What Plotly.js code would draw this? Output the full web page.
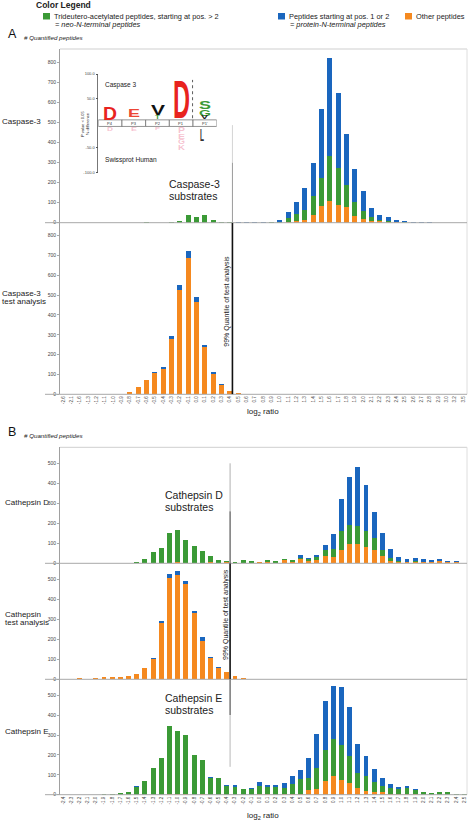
<!DOCTYPE html>
<html><head><meta charset="utf-8">
<script src="https://cdn.plot.ly/plotly-3.0.1.min.js"></script>
<style>html,body{margin:0;padding:0;background:#fff;}#chart{width:469px;height:821px;}</style>
</head><body><div id="chart"></div>
<script>
// ---------------- DATA ----------------
const catsA = ['-2.6','-2.1','-1.6','-1.3','-1.2','-1.1','-1.0','-0.9','-0.8','-0.7','-0.6','-0.5','-0.4','-0.3','-0.2','-0.1','0.0','0.1','0.2','0.3','0.4','0.5','0.6','0.7','0.8','0.9','1.0','1.1','1.2','1.3','1.4','1.5','1.6','1.7','1.8','1.9','2.0','2.1','2.2','2.3','2.4','2.5','2.6','2.7','2.8','2.9','3.0','3.2','3.5'];
// Caspase-3
const casp3Other = [0,0,0,0,0,0,0,0,0,0, 0,0,0,0,0,0,0,0,0,0, 0,0,0,0,0,0,0,5,7,13, 40,84,108,88,76,35,17,10,7,5, 2,1,0,0,0,0,0,0,0];
const casp3Neo   = [0,0,0,0,0,0,0,0,0,0, 2,0,0,3,10,39,27,36,12,5, 4,1,1,1,1,2,5,17,36,50, 94,141,223,184,111,68,43,16,6,5, 3,3,1,1,0,0,0,0,0];
const casp3Prot  = [0,0,0,0,0,0,0,0,0,0, 0,0,0,0,0,0,0,0,0,0, 0,2,2,2,2,3,8,31,58,109, 161,343,490,374,257,165,99,49,23,18, 8,6,2,2,2,0,0,0,0];
// Caspase-3 test analysis
const casp3TestOther = [0,0,2,0,0,0,2,3,13,37, 73,109,128,278,526,686,467,238,104,46, 18,8,4,3,0,0,0,0,0,0, 0,0,0,0,0,0,0,0,0,0, 0,0,0,0,0,0,2,0,0];
const casp3TestNeo   = [0,0,0,0,0,0,0,0,0,0, 0,0,0,0,0,0,0,0,0,0, 0,0,0,0,0,0,0,0,0,0, 0,0,0,0,0,0,0,0,0,0, 0,0,0,0,0,0,0,0,0];
const casp3TestProt  = [0,0,0,0,0,0,0,0,0,1, 0,3,9,15,23,37,23,10,9,4, 0,0,0,0,0,0,0,0,0,0, 0,0,0,0,0,0,0,0,0,0, 0,0,0,0,0,0,0,0,0];

const catsB = ['-2.4','-2.3','-2.2','-2.1','-2.0','-1.9','-1.8','-1.7','-1.6','-1.5','-1.4','-1.3','-1.2','-1.1','-1.0','-0.9','-0.8','-0.7','-0.6','-0.5','-0.4','-0.3','-0.2','-0.1','0.0','0.1','0.2','0.3','0.4','0.5','0.6','0.7','0.8','0.9','1.0','1.1','1.2','1.3','1.4','1.5','1.6','1.7','1.8','1.9','2.0','2.1','2.2','2.3','2.4','2.5'];
// Cathepsin D
const cathDOther = [0,0,0,0,0,0,0,0,0,0, 0,3,0,0,5,0,0,0,5,0, 5,0,0,0,5,8,2,18,5,23, 12,17,37,33,67,95,97,83,67,37, 10,8,8,8,8,7,10,4,6,0];
const cathDNeo   = [0,0,0,0,0,0,0,2,2,7, 22,52,78,150,162,117,87,60,32,18, 5,7,15,10,2,7,10,2,10,4, 10,16,27,38,92,97,87,77,58,27, 17,4,0,4,0,0,0,0,0,0];
const cathDProt  = [0,0,0,0,0,0,0,0,0,0, 0,0,0,0,0,0,0,0,0,0, 0,0,0,0,0,0,0,2,3,13, 6,10,28,76,161,238,299,230,133,88, 45,20,12,16,14,10,10,8,4,2];
// Cathepsin test analysis
const cathTestOther = [0,0,7,3,5,11,10,10,15,27, 55,102,283,506,520,475,333,192,107,57, 35,17,7,3,3,0,0,0,0,0, 0,0,0,0,0,0,0,0,0,0, 0,0,0,0,0,0,0,0,0,0];
const cathTestNeo   = [0,0,0,0,0,0,0,0,0,0, 0,0,0,0,0,0,0,0,0,0, 0,0,0,0,0,0,0,0,0,0, 0,0,0,0,0,0,0,0,0,0, 0,0,0,0,0,0,0,0,0,0];
const cathTestProt  = [0,0,0,0,0,2,0,2,0,0, 0,6,10,21,21,15,10,21,5,5, 0,0,0,0,0,0,0,0,0,0, 0,0,0,0,0,0,0,0,0,0, 0,0,0,0,0,0,0,0,0,0];
// Cathepsin E
const cathEOther = [0,0,0,0,0,0,0,0,0,0, 0,0,0,3,5,5,0,3,0,0, 0,0,0,0,3,3,0,3,6,6, 22,30,67,95,72,58,35,17,13,15, 3,3,3,5,0,0,0,0,0,0];
const cathENeo   = [0,0,0,0,0,3,3,8,13,40, 70,135,182,340,315,297,200,170,82,83, 43,40,28,30,42,37,40,33,50,72, 63,105,160,183,178,135,75,78,50,30, 32,27,33,20,15,8,13,13,5,5];
const cathEProt  = [0,0,0,0,0,0,0,0,0,2, 0,0,0,0,0,0,0,0,5,0, 5,7,0,3,18,10,8,25,37,45, 97,172,245,268,293,248,147,98,65,38, 20,10,7,5,0,0,0,0,0,0];

// 99% quantile of test analysis (log2 ratio)
const quantileA = 0.43;
const quantileB = -0.36;

// sequence logo (Caspase 3 vs Swissprot Human), % difference
const logoPositions = ['P4','P3','P2','P1',"P1'"];

// ---------------- HELPERS ----------------
const W = 469, H = 821;
const px = v => v / W;
const py = v => 1 - v / H;
const dom = (top, bot) => [py(bot), py(top)];
const FONT = 'Liberation Sans, Arial, sans-serif';
const COL = {green:'#3b9a36', blue:'#1a66be', orange:'#f5891f'};

function catIndex(cats, v) {
  const n = cats.map(parseFloat);
  for (let i = 0; i < n.length - 1; i++) {
    if (v >= n[i] && v <= n[i+1]) return i + (v - n[i]) / (n[i+1] - n[i]);
  }
  return 0;
}

function stack(cats, xa, ya, other, neo, prot) {
  const base = {type:'bar', x:cats, xaxis:xa, yaxis:ya, showlegend:false, hoverinfo:'skip'};
  return [
    Object.assign({}, base, {y:other, marker:{color:COL.orange}}),
    Object.assign({}, base, {y:neo,   marker:{color:COL.green}}),
    Object.assign({}, base, {y:prot,  marker:{color:COL.blue}})
  ];
}

const traces = [].concat(
  stack(catsA, 'x', 'y2', casp3Other, casp3Neo, casp3Prot),
  stack(catsA, 'x', 'y',  casp3TestOther, casp3TestNeo, casp3TestProt),
  stack(catsB, 'x2', 'y3', cathDOther, cathDNeo, cathDProt),
  stack(catsB, 'x2', 'y4', cathTestOther, cathTestNeo, cathTestProt),
  stack(catsB, 'x2', 'y5', cathEOther, cathENeo, cathEProt),
  [{type:'scatter', x:[], y:[], xaxis:'x3', yaxis:'y6', showlegend:false, hoverinfo:'skip'}]
);

const tickFontY = {family:FONT, size:5, color:'#444'};
const tickFontX = {family:FONT, size:4.6, color:'#444'};
function yAx(domain, range, vals, anchor) {
  return {domain, range, anchor, tickmode:'array', tickvals:vals, ticktext:vals.map(String),
    tickfont:tickFontY, showline:true, linecolor:'#a0a0a0', linewidth:1, ticks:'outside',
    ticklen:2, tickcolor:'#aaa', showgrid:false, zeroline:false, fixedrange:true};
}
function xAx(cats, range, anchor) {
  return {domain:[px(60), px(467)], anchor, type:'category', categoryorder:'array', categoryarray:cats,
    range, tickmode:'array', tickvals:cats, ticktext:cats, tickangle:-90, tickfont:tickFontX,
    showline:false, showgrid:false, zeroline:false, ticks:'', fixedrange:true};
}
const ticksA = [0,100,200,300,400,500,600,700,800];
const ticksB = [0,100,200,300,400,500];

// ---------------- SHAPES ----------------
const shapes = [];
function pline(x0, y0, x1, y1, color, w, dash) {
  shapes.push({type:'line', xref:'paper', yref:'paper', x0:px(x0), x1:px(x1), y0:py(y0), y1:py(y1),
    line:{color, width:w, dash:dash||'solid'}});
}
function prect(x0, y0, x1, y1, color) {
  shapes.push({type:'rect', xref:'paper', yref:'paper', x0:px(x0), x1:px(x1), y0:py(y1), y1:py(y0),
    fillcolor:color, line:{width:0}});
}
// frames / separators
pline(60, 49, 467, 49, '#cfcfcf', 1);
pline(467, 49, 467, 394.3, '#dedede', 1);
pline(45, 222.7, 467, 222.7, '#a8a8a8', 1);
pline(45, 394.3, 467, 394.3, '#a8a8a8', 1);
pline(60, 447.3, 467, 447.3, '#cfcfcf', 1);
pline(467, 447.3, 467, 794.7, '#dedede', 1);
pline(45, 563.3, 467, 563.3, '#a8a8a8', 1);
pline(45, 679.3, 467, 679.3, '#a8a8a8', 1);
pline(45, 794.7, 467, 794.7, '#a8a8a8', 1);
// legend squares
prect(43, 13, 50, 19.5, COL.green);
prect(278, 13, 285, 19.5, COL.blue);
prect(405, 13, 412, 19.5, COL.orange);

// quantile lines
const qA = catIndex(catsA, quantileA), qB = catIndex(catsB, quantileB);
function qline(xa, ya, xv, y0, y1, color, w) {
  shapes.push({type:'line', xref:xa, yref:ya, x0:xv, x1:xv, y0, y1, line:{color, width:w}});
}
qline('x', 'y2', qA, 0, 300, '#9a9a9a', 1);
qline('x', 'y2', qA, 300, 486, '#d4d4d4', 1);
qline('x', 'y', qA, 0, 865, '#111', 1.6);
qline('x2', 'y3', qB, 0, 260, '#555', 1.2);
qline('x2', 'y3', qB, 260, 500, '#b0b0b0', 1);
qline('x2', 'y4', qB, 0, 580, '#111', 1.6);
qline('x2', 'y5', qB, 400, 580, '#555', 1.2);
qline('x2', 'y5', qB, 140, 400, '#b8b8b8', 1);

// logo boxes
logoPositions.forEach((p, i) => {
  shapes.push({type:'rect', xref:'x3', yref:'y6', x0:i, x1:i+1, y0:-6.7, y1:6.7,
    fillcolor:'#fff', line:{color:'#666', width:0.7}});
});
shapes.push({type:'line', xref:'x3', yref:'y6', x0:3.98, x1:3.98, y0:10, y1:88,
  line:{color:'#333', width:0.8, dash:'dot'}});

// ---------------- ANNOTATIONS ----------------
const annotations = [];
const scaleList = [];
function T(text, x, y, size, o) {
  annotations.push(Object.assign({text, x:px(x), y:py(y), xref:'paper', yref:'paper', showarrow:false,
    xanchor:'left', yanchor:'middle', font:{family:FONT, size, color:'#222'}}, o||{}));
}
// legend
T('<b>Color Legend</b>', 34, 4.5, 8.5);
T('Trideutero-acetylated peptides, starting at pos. &gt; 2', 52, 16.3, 7.4);
T('<i>= neo-N-terminal peptides</i>', 53, 25, 7.4);
T('Peptides starting at pos. 1 or 2', 287, 16.3, 7.4);
T('<i>= protein-N-terminal peptides</i>', 288, 25, 7.4);
T('Other peptides', 414, 16.3, 7.4);
// panel letters
T('A', 6, 34, 12.5, {font:{family:FONT, size:12.5, color:'#111'}});
T('<i># Quantified peptides</i>', 22, 37.5, 6.2);
T('B', 6, 432, 12.5, {font:{family:FONT, size:12.5, color:'#111'}});
T('<i># Quantified peptides</i>', 22, 435.5, 6.2);
// row labels
T('Caspase-3', 0, 121.7, 8);
T('Caspase-3', -0.5, 293, 8);
T('test analysis', -0.5, 301, 8);
T('Cathepsin D', 3.3, 502, 8);
T('Cathepsin', 3.3, 614, 8);
T('test analysis', 3.3, 622, 8);
T('Cathepsin E', 3.3, 731.7, 8);
// substrate labels
T('Caspase-3', 167, 184, 10.5);
T('substrates', 167, 196, 10.5);
T('Cathepsin D', 163, 494.5, 10.5);
T('substrates', 163, 507, 10.5);
T('Cathepsin E', 163, 698, 10.5);
T('substrates', 163, 709.5, 10.5);
// quantile texts
T('99% Quantile of test analysis', 226.7, 301, 7, {textangle:-90, xanchor:'center'});
T('99% Quantile of test analysis', 226, 615, 7, {textangle:-90, xanchor:'center'});
// x titles
T('log<sub>2</sub> ratio', 262.5, 412.5, 8, {xanchor:'center'});
T('log<sub>2</sub> ratio', 262.5, 816, 8, {xanchor:'center'});
// logo texts
T('Caspase 3', 103, 85, 6.5);
T('Swissprot Human', 103, 160, 6.6);
T('P value &lt; 0.05<br>% difference', 85, 124, 4, {textangle:-90, xanchor:'center'});
logoPositions.forEach((p, i) => {
  annotations.push({text:p, x:i+0.5, y:0, xref:'x3', yref:'y6', showarrow:false,
    xanchor:'center', yanchor:'middle', font:{family:FONT, size:4, color:'#333'}});
});
// logo letters: char, position, low, high (% difference), colour, width px, advance em
const pxPerUnit = (172.3 - 74) / 200;
function L(ch, pos, lo, hi, color, wpx, adv) {
  const f = wpx / adv;
  const hpx = (hi - lo) * pxPerUnit;
  const sy = hpx / (0.716 * f);
  scaleList.push({i: annotations.length, sy});
  annotations.push({text: '<b>' + ch + '</b>', x:pos, y:(lo+hi)/2, xref:'x3', yref:'y6',
    showarrow:false, xanchor:'center', yanchor:'middle', borderpad:0,
    font:{family:FONT, size:f, color}});
}
L('D', 0.5, 7, 35, '#e8231e', 14, 0.722);
L('E', 1.5, 12, 28, '#ec4535', 12, 0.667);
L('V', 2.5, 18, 39, '#111', 14, 0.667);
L('T', 2.5, 8, 16, '#3b9a36', 5, 0.611);
L('D', 3.5, 8, 86, '#e8231e', 17, 0.722);
L('S', 4.5, 29, 46, '#3b9a36', 12, 0.667);
L('G', 4.5, 15, 29, '#3b9a36', 12, 0.778);
L('V', 4.5, 8, 15, '#222', 7, 0.667);
const pink = 'rgba(236,120,150,0.45)';
L('D', 0.5, -16, -9, pink, 6, 0.722);
L('E', 1.5, -16, -9, pink, 6, 0.667);
L('P', 2.5, -14, -9, pink, 5, 0.667);
L('P', 3.5, -21, -9, pink, 7, 0.667);
L('E', 3.5, -33, -22, pink, 7, 0.667);
L('G', 3.5, -44, -34, pink, 7, 0.778);
L('K', 3.5, -55, -45, pink, 7, 0.722);
L('L', 4.4, -35, -10, '#333', 4, 0.611);

// ---------------- LAYOUT ----------------
const layout = {
  width: W, height: H,
  margin: {l:0, r:0, t:0, b:0},
  paper_bgcolor: '#fff', plot_bgcolor: 'rgba(0,0,0,0)',
  barmode: 'stack', bargap: 0.4,
  showlegend: false,
  font: {family: FONT},
  xaxis:  xAx(catsA, [-0.4, 48.46], 'y'),
  yaxis:  yAx(dom(222.7, 394.3), [0, 865], ticksA, 'x'),
  yaxis2: yAx(dom(49, 222.7), [0, 865], ticksA, 'x'),
  xaxis2: xAx(catsB, [-0.37, 49.33], 'y5'),
  yaxis3: yAx(dom(447.3, 563.3), [0, 580], ticksB, 'x2'),
  yaxis4: yAx(dom(563.3, 679.3), [0, 580], ticksB, 'x2'),
  yaxis5: yAx(dom(679.3, 794.7), [0, 580], ticksB, 'x2'),
  xaxis3: {domain:[px(98.3), px(216.7)], anchor:'y6', range:[0,5], visible:false, fixedrange:true},
  yaxis6: {domain: dom(74, 172.3), anchor:'x3', range:[-100,100], tickmode:'array',
    tickvals:[-100,-50,50,100], ticktext:['-100.0','-50.0','50.0','100.0'],
    tickfont:{family:FONT, size:4, color:'#444'}, showline:true, linecolor:'#555', linewidth:0.8,
    ticks:'outside', ticklen:2, tickcolor:'#555', showgrid:false, zeroline:false, fixedrange:true},
  shapes, annotations
};

Plotly.newPlot('chart', traces, layout, {staticPlot:true, displayModeBar:false}).then(gd => {
  scaleList.forEach(s => {
    const g = gd.querySelector('.annotation[data-index="' + s.i + '"]');
    const t = g && g.querySelector('text');
    if (!t) return;
    const bb = t.getBBox();
    const cx = bb.x + bb.width / 2, cy = bb.y + bb.height / 2;
    const prev = t.getAttribute('transform') || '';
    t.setAttribute('transform', prev + ' translate(' + cx + ',' + cy + ') scale(1,' + s.sy + ') translate(' + (-cx) + ',' + (-cy) + ')');
  });
});
</script>
</body></html>
